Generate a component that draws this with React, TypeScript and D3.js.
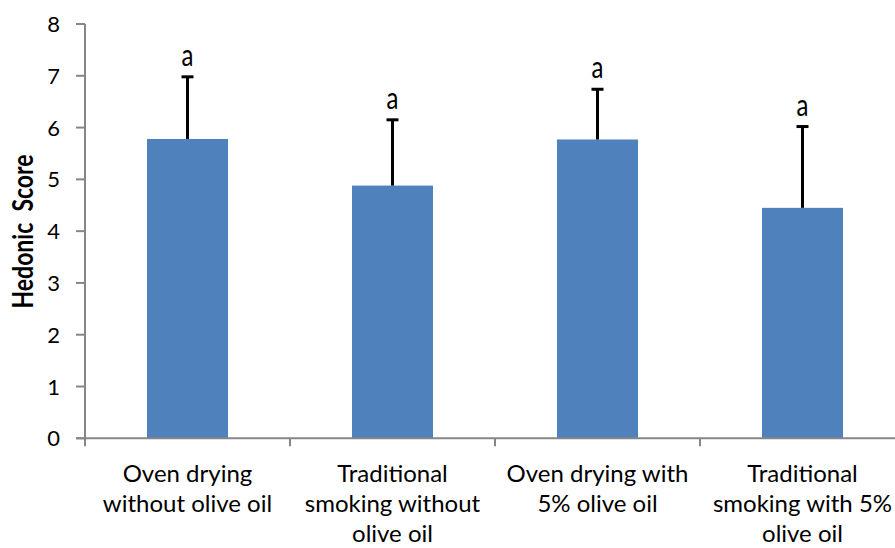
import React from "react";
import * as d3 from "d3";

const categories = [
  ["Oven drying", "without olive oil"],
  ["Traditional", "smoking without", "olive oil"],
  ["Oven drying with", "5% olive oil"],
  ["Traditional", "smoking with 5%", "olive oil"],
];
const means = [5.78, 4.88, 5.77, 4.45];
const errUpper = [6.98, 6.15, 6.74, 6.02];
const sigLetters = ["a", "a", "a", "a"];
const yTicks = [0, 1, 2, 3, 4, 5, 6, 7, 8];

const W = 895;
const H = 548;
const FONT = "Lato, 'Open Sans', sans-serif";

export default function App() {
  const x0 = 85;
  const bandW = 205;
  const x = d3
    .scaleBand<number>()
    .domain(d3.range(categories.length))
    .range([x0, x0 + bandW * categories.length])
    .paddingInner(0)
    .paddingOuter(0);
  const y = d3.scaleLinear().domain([0, 8]).range([438.3, 24]);
  const barW = 81;
  const axisColor = "#868686";

  return (
    <svg width={W} height={H} style={{ position: "absolute", left: 0, top: 0 }}>
      <rect x={0} y={0} width={W} height={H} fill="#fff" />
      {/* bars */}
      {means.map((m, i) => {
        const cx = (x(i) as number) + bandW / 2;
        return (
          <rect
            key={"b" + i}
            x={cx - barW / 2}
            y={y(m)}
            width={barW}
            height={y(0) - y(m)}
            fill="#4F81BD"
          />
        );
      })}
      {/* error bars */}
      {means.map((m, i) => {
        const cx = (x(i) as number) + bandW / 2;
        return (
          <g key={"e" + i} stroke="#000" strokeWidth={3}>
            <line x1={cx} x2={cx} y1={y(m)} y2={y(errUpper[i])} />
            <line x1={cx - 6} x2={cx + 6} y1={y(errUpper[i])} y2={y(errUpper[i])} />
          </g>
        );
      })}
      {/* letters */}
      {sigLetters.map((s, i) => {
        const cx = (x(i) as number) + bandW / 2;
        return (
          <text
            key={"s" + i}
            transform={`translate(${cx},${y(errUpper[i]) - 11}) scale(1,1.27)`}
            textAnchor="middle"
            fontFamily={FONT}
            fontSize={24}
            fill="#000"
          >
            {s}
          </text>
        );
      })}
      {/* y axis */}
      <line x1={x0} x2={x0} y1={y(8)} y2={y(0)} stroke={axisColor} strokeWidth={2} />
      {yTicks.map((t) => (
        <g key={"t" + t}>
          <line x1={x0 - 9} x2={x0} y1={y(t)} y2={y(t)} stroke={axisColor} strokeWidth={2} />
          <text
            x={60}
            y={y(t) + 8}
            textAnchor="end"
            fontFamily={FONT}
            fontSize={22}
            fill="#000"
          >
            {t}
          </text>
        </g>
      ))}
      {/* x axis */}
      <line x1={x0 - 9} x2={W} y1={y(0)} y2={y(0)} stroke={axisColor} strokeWidth={2} />
      {d3.range(categories.length + 1).map((i) => (
        <line
          key={"xt" + i}
          x1={x0 + bandW * i}
          x2={x0 + bandW * i}
          y1={y(0)}
          y2={y(0) + 8}
          stroke={axisColor}
          strokeWidth={2}
        />
      ))}
      {categories.map((lines, i) => {
        const cx = (x(i) as number) + bandW / 2;
        return (
          <g key={"c" + i}>
            {lines.map((l, j) => (
              <text
                key={j}
                x={cx}
                y={481.7 + j * 30}
                textAnchor="middle"
                fontFamily={FONT}
                fontSize={24}
                fill="#000"
              >
                {l}
              </text>
            ))}
          </g>
        );
      })}
      {/* y title */}
      <text
        transform={`translate(33,231.5) rotate(-90) scale(1,1.25)`}
        textAnchor="middle"
        fontFamily={FONT}
        fontSize={23}
        fontWeight="bold"
        fill="#000"
        style={{ whiteSpace: "pre" }}
      >
        {"Hedonic  Score"}
      </text>
    </svg>
  );
}
